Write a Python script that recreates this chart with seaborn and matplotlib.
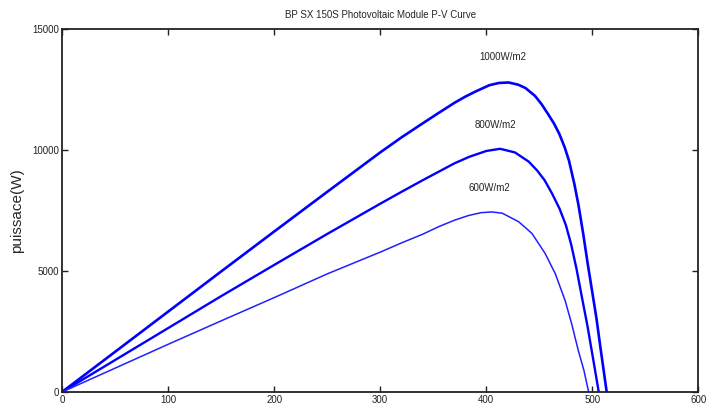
import matplotlib
matplotlib.use("Agg")
import matplotlib.pyplot as plt
import seaborn as sns
import pandas as pd

# Data
v_1000 = [0, 50, 100, 150, 200, 250, 300, 320, 340, 355, 370, 380, 390, 403, 412, 421, 430, 437, 446, 452,
          458, 464, 469, 474, 478, 483, 487, 491.5, 495.5, 500, 504, 507.5, 511, 513.5]
p_1000 = [0, 1660, 3320, 4980, 6630, 8270, 9900, 10520, 11100, 11530, 11950, 12200, 12420, 12680, 12770, 12790,
          12700, 12560, 12230, 11900, 11500, 11080, 10650, 10100, 9550, 8600, 7700, 6500, 5330, 4100, 3000, 1870, 780, 0]

v_800 = [0, 50, 100, 150, 200, 250, 300, 320, 340, 355, 370, 384, 400, 413, 427, 440, 448, 455, 462,
         469, 475, 480, 485, 490, 495.5, 500, 503.5, 506]
p_800 = [0, 1320, 2640, 3960, 5250, 6530, 7780, 8270, 8750, 9100, 9450, 9720, 9960, 10050, 9900, 9520, 9150,
         8750, 8200, 7580, 6900, 6100, 5100, 3950, 2700, 1550, 650, 0]

v_600 = [0, 50, 100, 150, 200, 250, 300, 320, 340, 355, 370, 383, 395, 405, 415, 430.5, 443, 455.5,
         465, 474.3, 480.5, 486.8, 492, 496.5]
p_600 = [0, 985, 1970, 2940, 3900, 4880, 5780, 6160, 6520, 6830, 7100, 7290, 7410, 7440, 7390, 7037, 6554,
         5723, 4892, 3782, 2814, 1704, 900, 0]

labels = ["1000W/m2", "800W/m2", "600W/m2"]
label_x = [416, 409, 403]
label_y = [13840, 11014, 8437]

x_ticks = [0, 100, 200, 300, 400, 500, 600]
y_ticks = [0, 5000, 10000, 15000]

title = "BP SX 150S Photovoltaic Module P-V Curve"
ylabel = "puissace(W)"

sns.set_style("ticks")
plt.rcParams["font.family"] = ["Liberation Sans", "DejaVu Sans"]

fig = plt.figure(figsize=(7.07, 4.13), dpi=100)
ax = fig.add_axes([0.0877, 0.0508, 0.9002, 0.879])

df1 = pd.DataFrame({"V": v_1000, "P": p_1000})
df2 = pd.DataFrame({"V": v_800, "P": p_800})
df3 = pd.DataFrame({"V": v_600, "P": p_600})

sns.lineplot(data=df1, x="V", y="P", ax=ax, color="#0000ff", linewidth=1.9, sort=False, estimator=None)
sns.lineplot(data=df2, x="V", y="P", ax=ax, color="#0000ff", linewidth=1.7, sort=False, estimator=None)
sns.lineplot(data=df3, x="V", y="P", ax=ax, color="#2020ff", linewidth=1.1, sort=False, estimator=None)

for t, x, y in zip(labels, label_x, label_y):
    ax.text(x, y, t, ha="center", va="center", fontsize=7, color="#222222")

ax.set_xlim(0, 600)
ax.set_ylim(0, 15000)
ax.set_xticks(x_ticks)
ax.set_yticks(y_ticks)
ax.set_xticklabels([str(v) for v in x_ticks])
ax.set_yticklabels([str(v) for v in y_ticks])
ax.tick_params(direction="in", length=4, width=1, labelsize=7, pad=2,
               top=True, right=True, colors="#222222")
for s in ax.spines.values():
    s.set_linewidth(1.3)
    s.set_color("#222222")
    s.set_visible(True)

ax.set_xlabel("")
ax.set_ylabel(ylabel, fontsize=11, labelpad=6)
ax.set_title(title, fontsize=7, pad=8)

fig.savefig("out.png", dpi=100)
